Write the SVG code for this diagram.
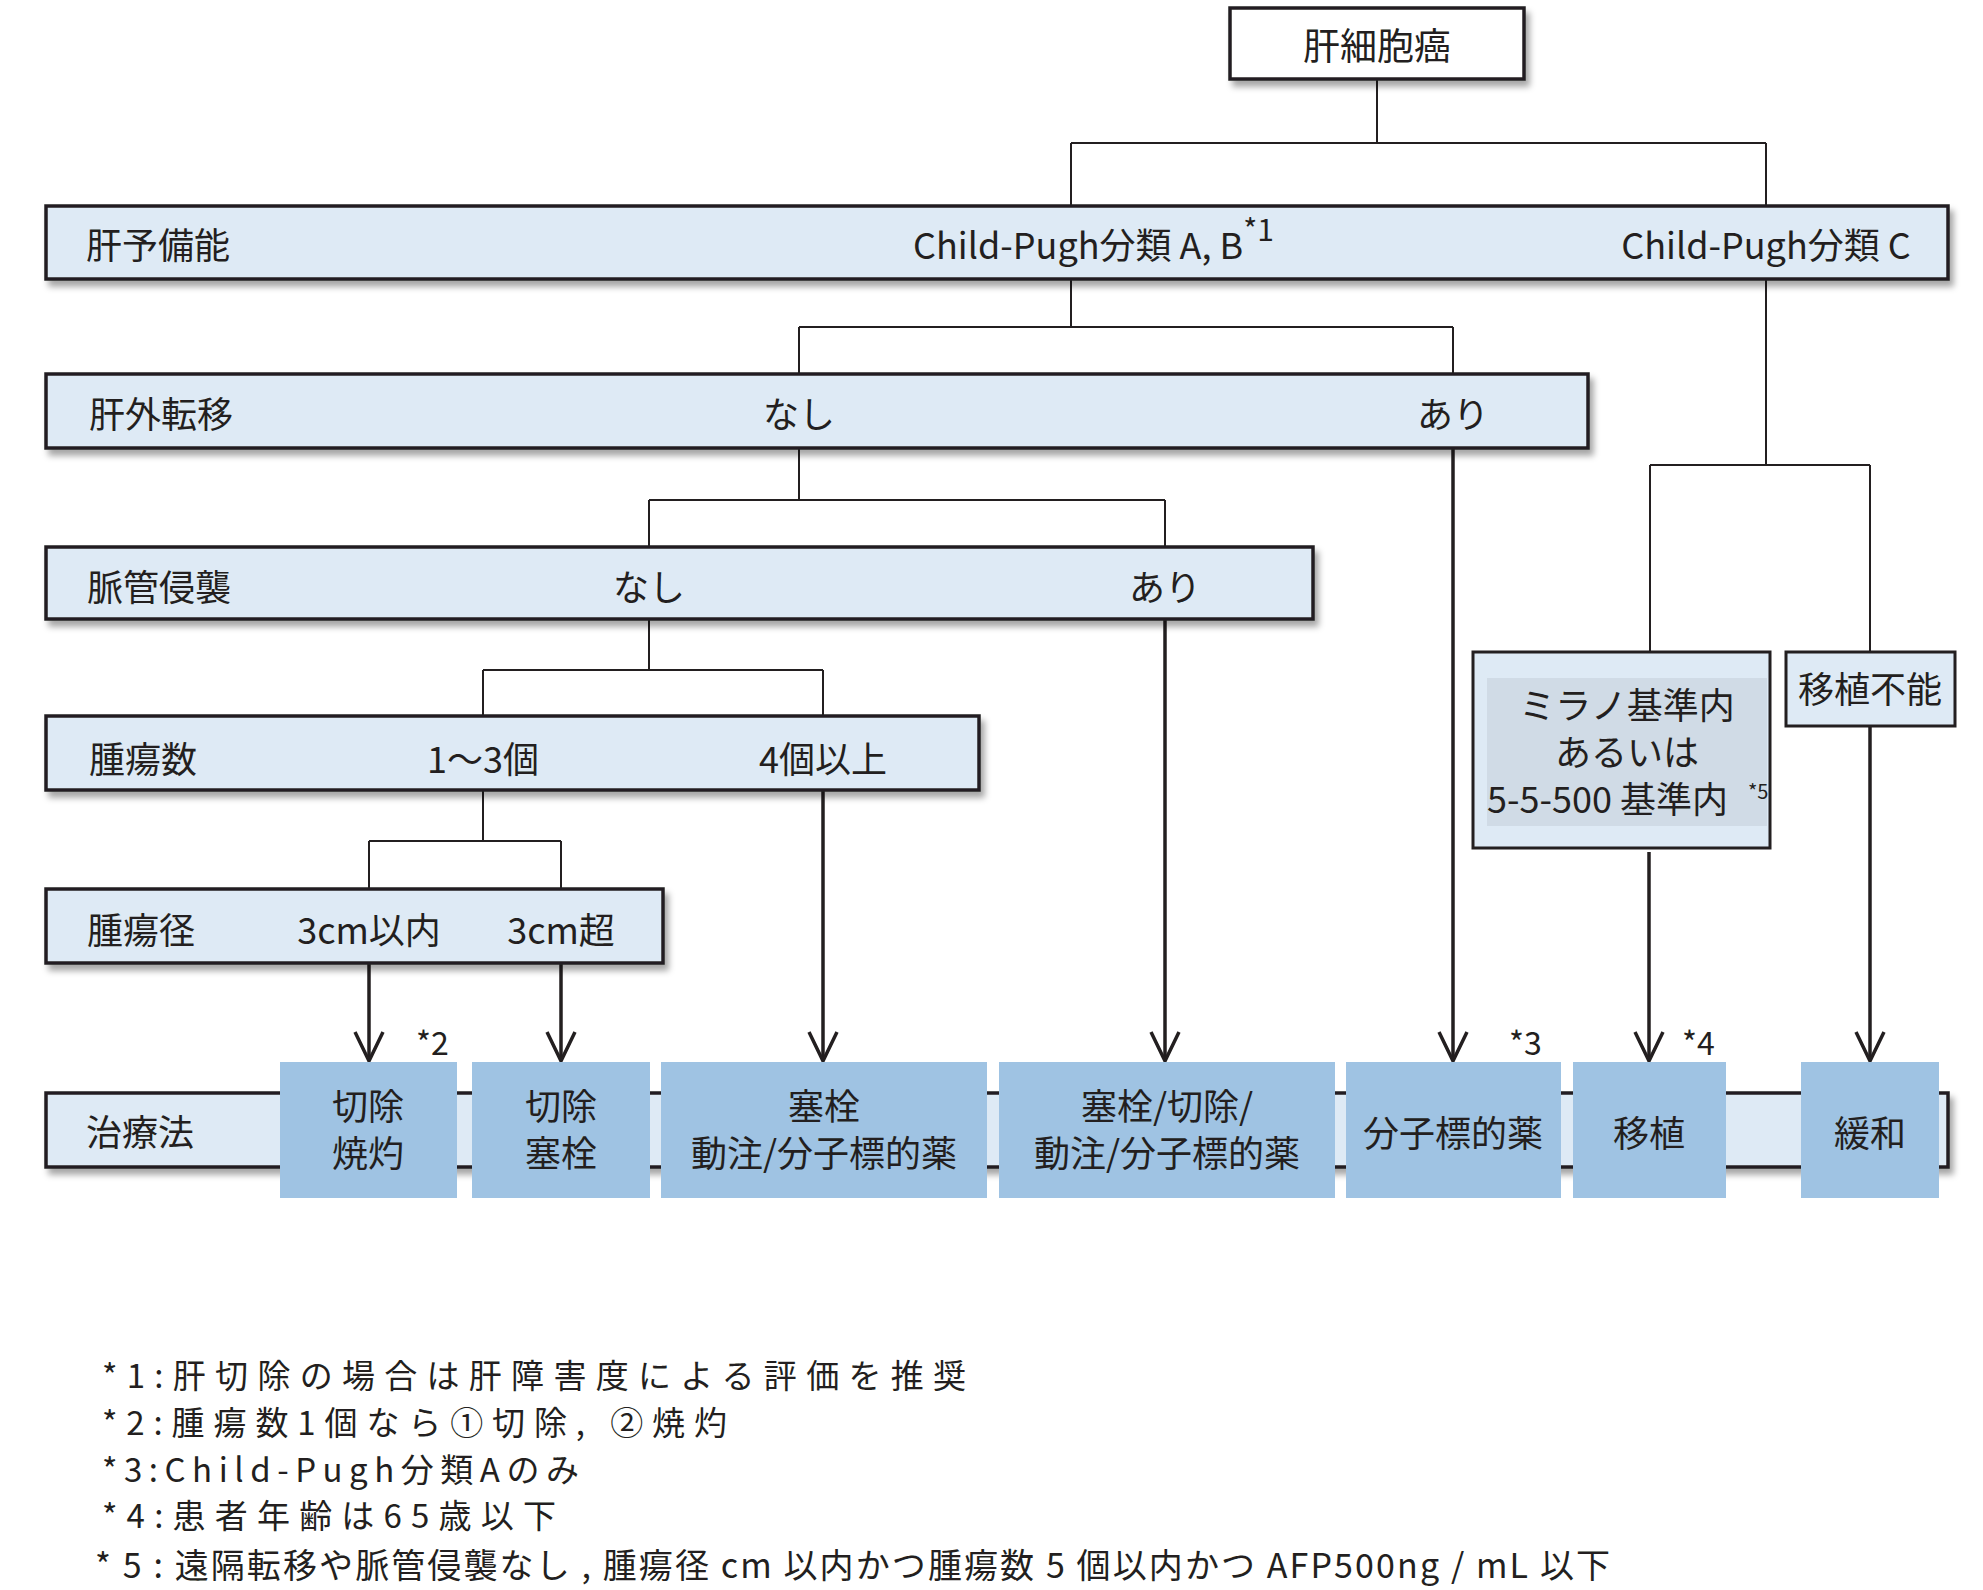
<svg xmlns="http://www.w3.org/2000/svg" width="1983" height="1590" viewBox="0 0 1983 1590">
<defs>
<filter id="sh" x="-5%" y="-20%" width="115%" height="160%">
<feDropShadow dx="4" dy="6" stdDeviation="3" flood-color="#000" flood-opacity="0.35"/>
</filter>
<marker id="ah" markerUnits="userSpaceOnUse" markerWidth="36" markerHeight="36" refX="16" refY="31" orient="0">
<path d="M2,2 L16,31 L30,2" fill="none" stroke="#231f20" stroke-width="3.5"/>
</marker>
</defs>
<style>
text{font-family:"Noto Sans CJK JP","Noto Sans",sans-serif;fill:#231f20;}
.lbl{font-size:36px;}
.mid{text-anchor:middle;}
.bar{fill:#deeaf5;stroke:#231f20;stroke-width:3.5;filter:url(#sh);}
.tr{fill:#9fc3e3;}
.con{fill:none;stroke:#231f20;stroke-width:2;}
.arr{fill:none;stroke:#231f20;stroke-width:3.5;marker-end:url(#ah);}
.fn{font-size:33px;}
.note{font-size:32px;}
</style>
<rect width="1983" height="1590" fill="#fff"/>

<g id="connectors">
<path class="con" d="M1377,79 V143 M1071,143 H1766 M1071,143 V206 M1766,143 V206"/>
<path class="con" d="M1071,279 V327 M799,327 H1453 M799,327 V374 M1453,327 V374"/>
<path class="con" d="M799,448 V500 M649,500 H1165 M649,500 V547 M1165,500 V547"/>
<path class="con" d="M649,619 V670 M483,670 H823 M483,670 V716 M823,670 V716"/>
<path class="con" d="M483,790 V841 M369,841 H561 M369,841 V889 M561,841 V889"/>
<path class="con" d="M1766,279 V465 M1650,465 H1870 M1650,465 V652 M1870,465 V652"/>
<path class="arr" d="M369,963 V1061"/>
<path class="arr" d="M561,963 V1061"/>
<path class="arr" d="M823,790 V1061"/>
<path class="arr" d="M1165,619 V1061"/>
<path class="arr" d="M1453,448 V1061"/>
<path class="arr" d="M1649,852 V1061"/>
<path class="arr" d="M1870,726 V1061"/>
</g>

<g id="root">
<rect x="1230" y="8" width="294" height="71" fill="#fff" stroke="#231f20" stroke-width="3.5" filter="url(#sh)"/>
<text class="mid" x="1377" y="60" font-size="37">肝細胞癌</text>
</g>

<g id="row-liver-reserve">
<rect class="bar" x="46" y="206" width="1902" height="73"/>
<text class="lbl" x="86" y="259">肝予備能</text>
<text class="lbl" x="913" y="259">Child-Pugh分類 A, B<tspan font-size="30" dy="-18">*1</tspan></text>
<text class="lbl mid" x="1766" y="259">Child-Pugh分類 C</text>
</g>

<g id="row-extrahepatic">
<rect class="bar" x="46" y="374" width="1542" height="74"/>
<text class="lbl" x="89" y="428">肝外転移</text>
<text class="lbl mid" x="799" y="428">なし</text>
<text class="lbl mid" x="1453" y="428">あり</text>
</g>

<g id="row-vascular">
<rect class="bar" x="46" y="547" width="1267" height="72"/>
<text class="lbl" x="87" y="601">脈管侵襲</text>
<text class="lbl mid" x="649" y="601">なし</text>
<text class="lbl mid" x="1165" y="601">あり</text>
</g>

<g id="row-count">
<rect class="bar" x="46" y="716" width="933" height="74"/>
<text class="lbl" x="89" y="773">腫瘍数</text>
<text class="lbl mid" x="483" y="773">1〜3個</text>
<text class="lbl mid" x="823" y="773">4個以上</text>
</g>

<g id="row-size">
<rect class="bar" x="46" y="889" width="617" height="74"/>
<text class="lbl" x="87" y="944">腫瘍径</text>
<text class="lbl mid" x="369" y="944">3cm以内</text>
<text class="lbl mid" x="561" y="944">3cm超</text>
</g>

<g id="milan">
<rect x="1473" y="652" width="297" height="196" fill="#deeaf5" stroke="#231f20" stroke-width="3"/>
<rect x="1487" y="678" width="280" height="148" fill="#d0dbe6"/>
<text class="lbl mid" x="1627" y="719">ミラノ基準内</text>
<text class="lbl mid" x="1627" y="766">あるいは</text>
<text class="lbl" x="1487" y="813">5-5-500 基準内</text>
<text x="1748" y="799" font-size="20">*5</text>
</g>

<g id="no-transplant">
<rect x="1786" y="652" width="169" height="74" fill="#deeaf5" stroke="#231f20" stroke-width="3"/>
<text class="lbl mid" x="1870" y="703">移植不能</text>
</g>

<g id="treatment-row">
<rect class="bar" x="46" y="1093" width="1902" height="74"/>
<text class="lbl" x="86" y="1146">治療法</text>
</g>

<g id="tx-resect-ablate">
<rect class="tr" x="280" y="1062" width="177" height="136"/>
<text class="lbl mid" x="368" y="1120">切除</text>
<text class="lbl mid" x="368" y="1167">焼灼</text>
</g>
<g id="tx-resect-emb">
<rect class="tr" x="472" y="1062" width="178" height="136"/>
<text class="lbl mid" x="561" y="1120">切除</text>
<text class="lbl mid" x="561" y="1167">塞栓</text>
</g>
<g id="tx-emb-infusion">
<rect class="tr" x="661" y="1062" width="326" height="136"/>
<text class="lbl mid" x="824" y="1120">塞栓</text>
<text class="lbl mid" x="824" y="1167">動注/分子標的薬</text>
</g>
<g id="tx-emb-resect-infusion">
<rect class="tr" x="999" y="1062" width="336" height="136"/>
<text class="lbl mid" x="1167" y="1120">塞栓/切除/</text>
<text class="lbl mid" x="1167" y="1167">動注/分子標的薬</text>
</g>
<g id="tx-molecular">
<rect class="tr" x="1346" y="1062" width="215" height="136"/>
<text class="lbl mid" x="1453" y="1147">分子標的薬</text>
</g>
<g id="tx-transplant">
<rect class="tr" x="1573" y="1062" width="153" height="136"/>
<text class="lbl mid" x="1649" y="1147">移植</text>
</g>
<g id="tx-palliative">
<rect class="tr" x="1801" y="1062" width="138" height="136"/>
<text class="lbl mid" x="1870" y="1147">緩和</text>
</g>

<g id="notes">
<text class="note" x="416" y="1055">*2</text>
<text class="note" x="1509" y="1055">*3</text>
<text class="note" x="1682" y="1055">*4</text>
</g>

<g id="footnotes">
<text class="fn" x="102" y="1388" textLength="864" lengthAdjust="spacing">*1:肝切除の場合は肝障害度による評価を推奨</text>
<text class="fn" x="102" y="1435" textLength="625" lengthAdjust="spacing">*2:腫瘍数1個なら①切除, ②焼灼</text>
<text class="fn" x="102" y="1482" textLength="477" lengthAdjust="spacing">*3:Child-Pugh分類Aのみ</text>
<text class="fn" x="102" y="1528" textLength="454" lengthAdjust="spacing">*4:患者年齢は65歳以下</text>
<text x="95" y="1578" font-size="34" textLength="1515" lengthAdjust="spacing">* 5 : 遠隔転移や脈管侵襲なし , 腫瘍径 cm 以内かつ腫瘍数 5 個以内かつ AFP500ng / mL 以下</text>
</g>
</svg>
